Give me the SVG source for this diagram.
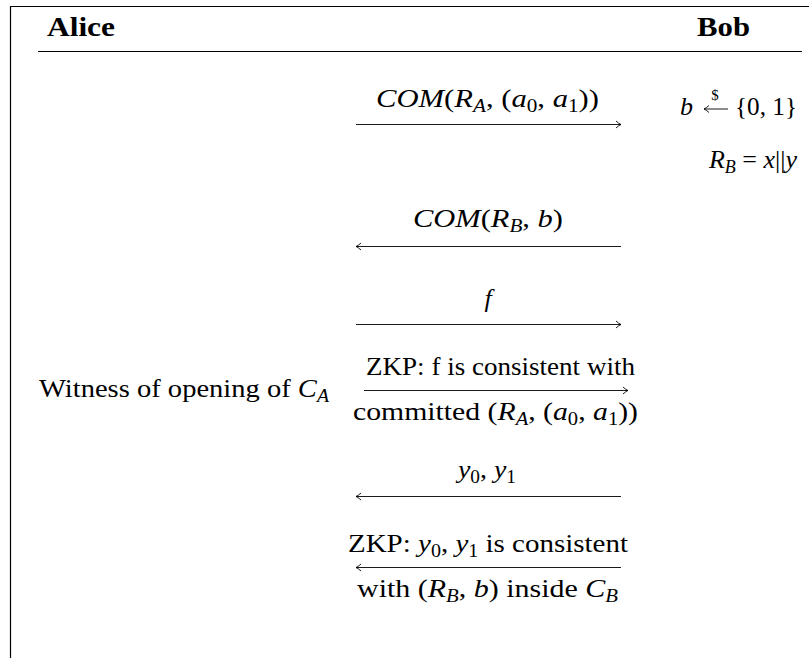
<svg xmlns="http://www.w3.org/2000/svg" width="809" height="658" viewBox="0 0 809 658">
<defs>
<style>
text{font-family:"Liberation Serif","Times New Roman",serif;font-size:26px;fill:#000}
.b{font-weight:bold;font-size:27px}
.i{font-style:italic}
.s{font-size:18px;font-style:italic}
.s0{font-size:18px}
.frame{stroke:#000;stroke-width:1.2;fill:none}
.rule{stroke:#000;stroke-width:1;fill:none}
.msg{stroke:#000;stroke-width:0.9;fill:none;marker-end:url(#ah)}
</style>
<marker id="ah" viewBox="0 0 10 10" refX="8.5" refY="5" markerWidth="10" markerHeight="10" markerUnits="userSpaceOnUse" orient="auto">
<path d="M3.5 1.5 Q6.5 4.3 8.5 5 Q6.5 5.7 3.5 8.5" fill="none" stroke="#000" stroke-width="0.9"/>
</marker>
</defs>
<rect width="809" height="658" fill="#fff"/>
<g id="frame">
<path class="frame" d="M10.5 658 V6.5 H809"/>
<path class="rule" d="M38 51.5 H802"/>
</g>
<g id="alice"><text class="b" x="47" y="36" textLength="68" lengthAdjust="spacingAndGlyphs">Alice</text></g>
<g id="bob"><text class="b" x="697" y="36" textLength="53" lengthAdjust="spacingAndGlyphs">Bob</text></g>
<g id="bob-sample">
<text x="680" y="115"><tspan class="i">b</tspan></text>
<text x="715" y="100" text-anchor="middle" style="font-size:15px">$</text>
<path class="msg" d="M728 109 H704"/>
<text x="735" y="115" textLength="62" lengthAdjust="spacingAndGlyphs">{0, 1}</text>
</g>
<g id="bob-rb">
<text x="797" y="168" text-anchor="end"><tspan class="i">R</tspan><tspan class="s" dy="5">B</tspan><tspan dy="-5"> = </tspan><tspan class="i">x</tspan>||<tspan class="i">y</tspan></text>
</g>
<g id="alice-witness">
<text x="39" y="397" textLength="290" lengthAdjust="spacingAndGlyphs">Witness of opening of <tspan class="i">C</tspan><tspan class="s" dy="5">A</tspan></text>
</g>
<g id="connectors">
<path class="msg" d="M356 124.5 H621"/>
<path class="msg" d="M621 246.5 H356"/>
<path class="msg" d="M356 324.5 H621"/>
<path class="msg" d="M364 390.5 H628"/>
<path class="msg" d="M621 496.5 H356"/>
<path class="msg" d="M621 567.5 H356"/>
</g>
<g id="labels">
<text x="487.5" y="107" text-anchor="middle" textLength="223" lengthAdjust="spacingAndGlyphs"><tspan class="i">COM</tspan>(<tspan class="i">R</tspan><tspan class="s" dy="5">A</tspan><tspan dy="-5">, (</tspan><tspan class="i">a</tspan><tspan class="s0" dy="5">0</tspan><tspan dy="-5">, </tspan><tspan class="i">a</tspan><tspan class="s0" dy="5">1</tspan><tspan dy="-5">))</tspan></text>
<text x="488" y="227" text-anchor="middle" textLength="150" lengthAdjust="spacingAndGlyphs"><tspan class="i">COM</tspan>(<tspan class="i">R</tspan><tspan class="s" dy="5">B</tspan><tspan dy="-5">, </tspan><tspan class="i">b</tspan>)</text>
<text x="488" y="307" text-anchor="middle" class="i">f</text>
<text x="500.5" y="375" text-anchor="middle" textLength="269" lengthAdjust="spacingAndGlyphs">ZKP: f is consistent with</text>
<text x="495.5" y="420" text-anchor="middle" textLength="285" lengthAdjust="spacingAndGlyphs">committed (<tspan class="i">R</tspan><tspan class="s" dy="5">A</tspan><tspan dy="-5">, (</tspan><tspan class="i">a</tspan><tspan class="s0" dy="5">0</tspan><tspan dy="-5">, </tspan><tspan class="i">a</tspan><tspan class="s0" dy="5">1</tspan><tspan dy="-5">))</tspan></text>
<text x="487" y="478" text-anchor="middle" textLength="58" lengthAdjust="spacingAndGlyphs"><tspan class="i">y</tspan><tspan class="s0" dy="5">0</tspan><tspan dy="-5">, </tspan><tspan class="i">y</tspan><tspan class="s0" dy="5">1</tspan></text>
<text x="488" y="552" text-anchor="middle" textLength="280" lengthAdjust="spacingAndGlyphs">ZKP: <tspan class="i">y</tspan><tspan class="s0" dy="5">0</tspan><tspan dy="-5">, </tspan><tspan class="i">y</tspan><tspan class="s0" dy="5">1</tspan><tspan dy="-5"> is consistent</tspan></text>
<text x="487.5" y="597" text-anchor="middle" textLength="261" lengthAdjust="spacingAndGlyphs">with (<tspan class="i">R</tspan><tspan class="s" dy="5">B</tspan><tspan dy="-5">, </tspan><tspan class="i">b</tspan>) inside <tspan class="i">C</tspan><tspan class="s" dy="5">B</tspan></text>
</g>
</svg>
